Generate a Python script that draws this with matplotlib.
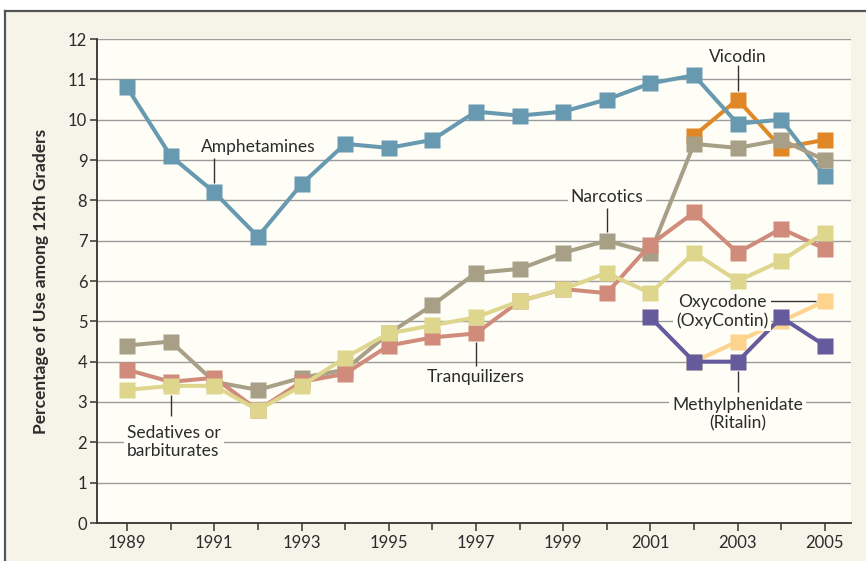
import numpy as np
import matplotlib.pyplot as plt
from matplotlib.patches import Rectangle
from matplotlib.lines import Line2D
from matplotlib.ticker import MultipleLocator

# Survey years and values (percentage of use among 12th graders)
years = list(range(1989, 2006))
amphetamines = [10.8, 9.1, 8.2, 7.1, 8.4, 9.4, 9.3, 9.5, 10.2, 10.1, 10.2, 10.5, 10.9, 11.1, 9.9, 10.0, 8.6]
narcotics = [4.4, 4.5, 3.5, 3.3, 3.6, 3.8, 4.7, 5.4, 6.2, 6.3, 6.7, 7.0, 6.7, 9.4, 9.3, 9.5, 9.0]
tranquilizers = [3.8, 3.5, 3.6, 2.8, 3.5, 3.7, 4.4, 4.6, 4.7, 5.5, 5.8, 5.7, 6.9, 7.7, 6.7, 7.3, 6.8]
sedatives = [3.3, 3.4, 3.4, 2.8, 3.4, 4.1, 4.7, 4.9, 5.1, 5.5, 5.8, 6.2, 5.7, 6.7, 6.0, 6.5, 7.2]

vicodin_years = [2002, 2003, 2004, 2005]
vicodin = [9.6, 10.5, 9.3, 9.5]
oxy_years = [2002, 2003, 2004, 2005]
oxycontin = [4.0, 4.5, 5.0, 5.5]
ritalin_years = [2001, 2002, 2003, 2004, 2005]
ritalin = [5.1, 4.0, 4.0, 5.1, 4.4]

outer_bg = '#f6f4e9'
plot_bg = '#fefdf6'
text_col = '#2b2b2b'
font = 'Lato'

fig = plt.figure(figsize=(8.66, 5.61), dpi=100)
fig.patch.set_facecolor('white')

# beige panel with dark frame on top and left
W, H = 866, 561
fig.patches.append(Rectangle((5 / W, 0), 1, 1 - 10.5 / H, transform=fig.transFigure,
                             facecolor=outer_bg, edgecolor='none', zorder=-10))
fig.lines.append(Line2D([5 / W, 1], [1 - 10.5 / H, 1 - 10.5 / H], transform=fig.transFigure,
                        color='#555555', lw=1.6, zorder=-9))
fig.lines.append(Line2D([5 / W, 5 / W], [0, 1 - 10.5 / H], transform=fig.transFigure,
                        color='#555555', lw=1.6, zorder=-9))

ax = fig.add_axes([97 / W, 1 - 523 / H, (851 - 97) / W, (523 - 39) / H])
ax.set_facecolor(plot_bg)
ax.set_xlim(1988.31, 2005.6)
ax.set_ylim(0, 12)

# horizontal grid
for v in range(1, 13):
    ax.axhline(v, color='#9c9c9c', lw=1.0, zorder=1)

ms = 11.5
lw = 2.9
series = [
    (vicodin_years, vicodin, '#e08827'),
    (years, amphetamines, '#6799b1'),
    (years, narcotics, '#a89f87'),
    (years, tranquilizers, '#d08b7a'),
    (years, sedatives, '#ded68d'),
    (oxy_years, oxycontin, '#fdd38e'),
    (ritalin_years, ritalin, '#655a9b'),
]
for i, (x, y, c) in enumerate(series):
    ax.plot(x, y, color=c, lw=lw, marker='s', ms=ms, mec='none', zorder=3 + i)

# spines and ticks
for s in ['top', 'right']:
    ax.spines[s].set_visible(False)
for s in ['left', 'bottom']:
    ax.spines[s].set_color('#333333')
    ax.spines[s].set_linewidth(1.3)
    ax.spines[s].set_zorder(20)

ax.set_yticks(range(0, 13))
ax.xaxis.set_major_locator(MultipleLocator(2))
ax.xaxis.set_minor_locator(MultipleLocator(1))
ax.set_xticks(range(1989, 2006, 2))
ax.tick_params(axis='y', length=5, width=1.1, color='#333333', labelsize=12,
               labelcolor=text_col, pad=2)
ax.tick_params(axis='x', which='major', length=6, width=1.1, color='#333333',
               labelsize=12, labelcolor=text_col, pad=3)
ax.tick_params(axis='x', which='minor', length=5, width=1.1, color='#333333')
for lab in ax.get_xticklabels() + ax.get_yticklabels():
    lab.set_fontfamily(font)

ax.set_ylabel('Percentage of Use among 12th Graders', fontsize=12.5, fontweight='bold',
              fontfamily=font, color=text_col, labelpad=14)

# annotations
lab_kw = dict(fontsize=12.5, fontfamily=font, color=text_col, zorder=30, linespacing=1.15)
mask = dict(facecolor=plot_bg, edgecolor='none', pad=2)


def leader(xs, ys):
    ax.plot(xs, ys, color='#333333', lw=1.0, zorder=29, solid_capstyle='butt')


ax.text(2003.0, 11.55, 'Vicodin', ha='center', va='center', **lab_kw)
leader([2003.0, 2003.0], [11.35, 10.72])

ax.text(1992.0, 9.32, 'Amphetamines', ha='center', va='center', **lab_kw)
leader([1991.0, 1991.0], [9.05, 8.42])

ax.text(2000.0, 8.08, 'Narcotics', ha='center', va='center', bbox=mask, **lab_kw)
leader([2000.0, 2000.0], [7.8, 7.22])

ax.text(1997.0, 3.62, 'Tranquilizers', ha='center', va='center', **lab_kw)
leader([1997.0, 1997.0], [3.9, 4.5])

ax.text(1989.0, 2.0, 'Sedatives or\nbarbiturates', ha='left', va='center', bbox=mask, **lab_kw)
leader([1990.0, 1990.0], [3.18, 2.65])

ax.text(2002.65, 5.25, 'Oxycodone\n(OxyContin)', ha='center', va='center', bbox=mask, **lab_kw)
leader([2003.74, 2004.8], [5.5, 5.5])

ax.text(2003.0, 2.7, 'Methylphenidate\n(Ritalin)', ha='center', va='center', bbox=mask, **lab_kw)
leader([2003.0, 2003.0], [3.78, 3.25])

fig.savefig('out.png', dpi=100, facecolor=fig.get_facecolor())
